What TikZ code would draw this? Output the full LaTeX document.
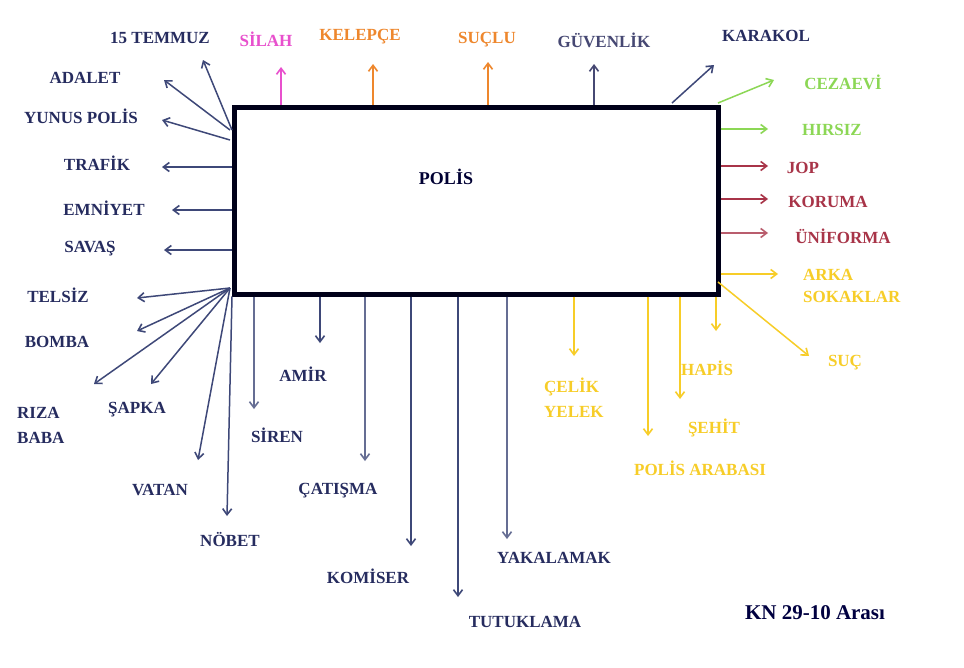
\documentclass[tikz,border=0pt]{standalone}
\usepackage{fontspec}
\setmainfont{Liberation Serif}
\usetikzlibrary{arrows.meta}
\definecolor{navytxt}{RGB}{38,44,95}
\definecolor{navyarr}{RGB}{62,72,120}
\definecolor{magent}{RGB}{232,80,205}
\definecolor{orng}{RGB}{238,135,45}
\definecolor{grn}{RGB}{140,215,85}
\definecolor{dred}{RGB}{168,52,72}
\definecolor{yel}{RGB}{247,205,40}
\definecolor{guv}{RGB}{70,72,115}
\tikzset{
  lbl/.style={font=\fontsize{17}{19}\selectfont\bfseries, text=navytxt, inner sep=0pt, align=left},
  arr/.style={-{Straight Barb[length=6pt,width=9pt,line width=1.6pt]}, line width=1.5pt, draw=navyarr},
}
\begin{document}
\begin{tikzpicture}[x=1pt,y=-1pt]
\useasboundingbox[fill=white] (0,0) rectangle (964,667);
\node[draw=black!90!blue, line width=4.5pt, minimum width=484pt, minimum height=187pt, anchor=north west, inner sep=0pt] (polis) at (232,105) {};
\node[lbl, font=\fontsize{18}{20}\selectfont\bfseries, text=black!80!blue] (ptxt) at (446,177) {POLİS};

% top
\node[lbl] (temmuz) at (160,38) {15 TEMMUZ};
\node[lbl, text=magent] (silah) at (266,39) {SİLAH};
\node[lbl, text=orng] (kelepce) at (360,37) {KELEPÇE};
\node[lbl, text=orng] (suclu) at (487,40) {SUÇLU};
\node[lbl, text=guv] (guven) at (604,40) {GÜVENLİK};
\node[lbl] (karakol) at (766,36) {KARAKOL};
% right
\node[lbl, text=grn] (cezaevi) at (843,82) {CEZAEVİ};
\node[lbl, text=grn] (hirsiz) at (832,130) {HIRSIZ};
\node[lbl, text=dred] (jop) at (803,168) {JOP};
\node[lbl, text=dred] (koruma) at (828,202) {KORUMA};
\node[lbl, text=dred] (uniforma) at (843,236) {ÜNİFORMA};
\node[lbl, text=yel, anchor=west] (arka) at (803,286) {ARKA\\[3pt]SOKAKLAR};
\node[lbl, text=yel] (suc) at (845,363) {SUÇ};
\node[lbl, text=yel] (hapis) at (707,368) {HAPİS};
\node[lbl, text=yel] (sehit) at (714,428) {ŞEHİT};
\node[lbl, text=yel] (arabasi) at (700,468) {POLİS ARABASI};
\node[lbl, text=yel, anchor=west] (celik) at (544,398) {ÇELİK\\[6pt]YELEK};
% bottom
\node[lbl] (yakala) at (554,558) {YAKALAMAK};
\node[lbl] (tutuk) at (525,622) {TUTUKLAMA};
\node[lbl] (komiser) at (368,576) {KOMİSER};
\node[lbl] (catisma) at (338,491) {ÇATIŞMA};
\node[lbl] (amir) at (303,374) {AMİR};
\node[lbl] (siren) at (277,435) {SİREN};
\node[lbl] (nobet) at (230,540) {NÖBET};
\node[lbl] (vatan) at (160,490) {VATAN};
\node[lbl] (sapka) at (137,410) {ŞAPKA};
\node[lbl, anchor=west] (riza) at (17,425) {RIZA\\[6pt]BABA};
% left
\node[lbl] (bomba) at (57,342) {BOMBA};
\node[lbl] (telsiz) at (58,295) {TELSİZ};
\node[lbl] (savas) at (90,249) {SAVAŞ};
\node[lbl] (emniyet) at (104,208) {EMNİYET};
\node[lbl] (trafik) at (97,163) {TRAFİK};
\node[lbl] (yunus) at (81,116) {YUNUS POLİS};
\node[lbl] (adalet) at (85,78) {ADALET};
\node[lbl, font=\fontsize{21}{23}\selectfont\bfseries, text=black!75!blue] (kn) at (815,613) {KN 29-10 Arası};

% arrow tip coordinates
\coordinate (tTemmuz) at (203,60);
\coordinate (tSilah) at (281,67);
\coordinate (tKelepce) at (373,64);
\coordinate (tSuclu) at (488,62);
\coordinate (tGuven) at (594,64);
\coordinate (tKarakol) at (714,65);
\coordinate (tCezaevi) at (774,80);
\coordinate (tHirsiz) at (768,129);
\coordinate (tJop) at (768,166);
\coordinate (tKoruma) at (768,199);
\coordinate (tUniforma) at (768,233);
\coordinate (tArka) at (778,274);
\coordinate (tSuc) at (809,356);
\coordinate (tHapis) at (716,331);
\coordinate (tSehit) at (680,399);
\coordinate (tArabasi) at (648,436);
\coordinate (tCelik) at (574,356);
\coordinate (tYakala) at (507,539);
\coordinate (tTutuk) at (458,597);
\coordinate (tKomiser) at (411,546);
\coordinate (tCatisma) at (365,461);
\coordinate (tAmir) at (320,343);
\coordinate (tSiren) at (254,409);
\coordinate (tNobet) at (227,516);
\coordinate (tVatan) at (198,460);
\coordinate (tSapka) at (151,384);
\coordinate (tRiza) at (94,384);
\coordinate (tBomba) at (137,331);
\coordinate (tTelsiz) at (137,298);
\coordinate (tSavas) at (164,250);
\coordinate (tEmniyet) at (172,210);
\coordinate (tTrafik) at (162,167);
\coordinate (tYunus) at (162,120);
\coordinate (tAdalet) at (164,80);

% top arrows
\draw[arr] (polis.north west) ++(0,25) coordinate (sTemmuz) (sTemmuz) -- (tTemmuz);
\draw[arr, draw=magent] (polis.north -| tSilah) -- (tSilah);
\draw[arr, draw=orng] (polis.north -| tKelepce) -- (tKelepce);
\draw[arr, draw=orng] (polis.north -| tSuclu) -- (tSuclu);
\draw[arr, draw=guv] (polis.north -| tGuven) -- (tGuven);
\coordinate (sKarakol) at (672,103);
\draw[arr] (sKarakol) -- (tKarakol);
% right arrows
\coordinate (sCezaevi) at (718,103);
\draw[arr, draw=grn] (sCezaevi) -- (tCezaevi);
\draw[arr, draw=grn] (polis.east |- tHirsiz) -- (tHirsiz);
\draw[arr, draw=dred] (polis.east |- tJop) -- (tJop);
\draw[arr, draw=dred] (polis.east |- tKoruma) -- (tKoruma);
\draw[arr, draw=dred!80!white] (polis.east |- tUniforma) -- (tUniforma);
\draw[arr, draw=yel] (polis.east |- tArka) -- (tArka);
\coordinate (sSuc) at (718,282);
\draw[arr, draw=yel] (sSuc) -- (tSuc);
% bottom yellow arrows
\draw[arr, draw=yel] (polis.south -| tHapis) -- (tHapis);
\draw[arr, draw=yel] (polis.south -| tSehit) -- (tSehit);
\draw[arr, draw=yel] (polis.south -| tArabasi) -- (tArabasi);
\draw[arr, draw=yel] (polis.south -| tCelik) -- (tCelik);
% bottom navy arrows
\draw[arr, draw=navyarr!80!white] (polis.south -| tYakala) -- (tYakala);
\draw[arr] (polis.south -| tTutuk) -- (tTutuk);
\draw[arr] (polis.south -| tKomiser) -- (tKomiser);
\draw[arr, draw=navyarr!80!white] (polis.south -| tCatisma) -- (tCatisma);
\draw[arr] (polis.south -| tAmir) -- (tAmir);
\draw[arr, draw=navyarr!80!white] (polis.south -| tSiren) -- (tSiren);
% fan from bottom-left corner
\coordinate (sFan) at (230,288);
\draw[arr] (polis.south west) -- (tNobet);
\draw[arr] (sFan) -- (tVatan);
\draw[arr] (sFan) -- (tSapka);
\draw[arr] (sFan) -- (tRiza);
\draw[arr] (sFan) -- (tBomba);
\draw[arr] (sFan) -- (tTelsiz);
% left arrows
\draw[arr] (polis.west |- tSavas) -- (tSavas);
\draw[arr] (polis.west |- tEmniyet) -- (tEmniyet);
\draw[arr] (polis.west |- tTrafik) -- (tTrafik);
\coordinate (sYunus) at (230,140);
\draw[arr] (sYunus) -- (tYunus);
\coordinate (sAdalet) at (230,130);
\draw[arr] (sAdalet) -- (tAdalet);
\end{tikzpicture}
\end{document}
